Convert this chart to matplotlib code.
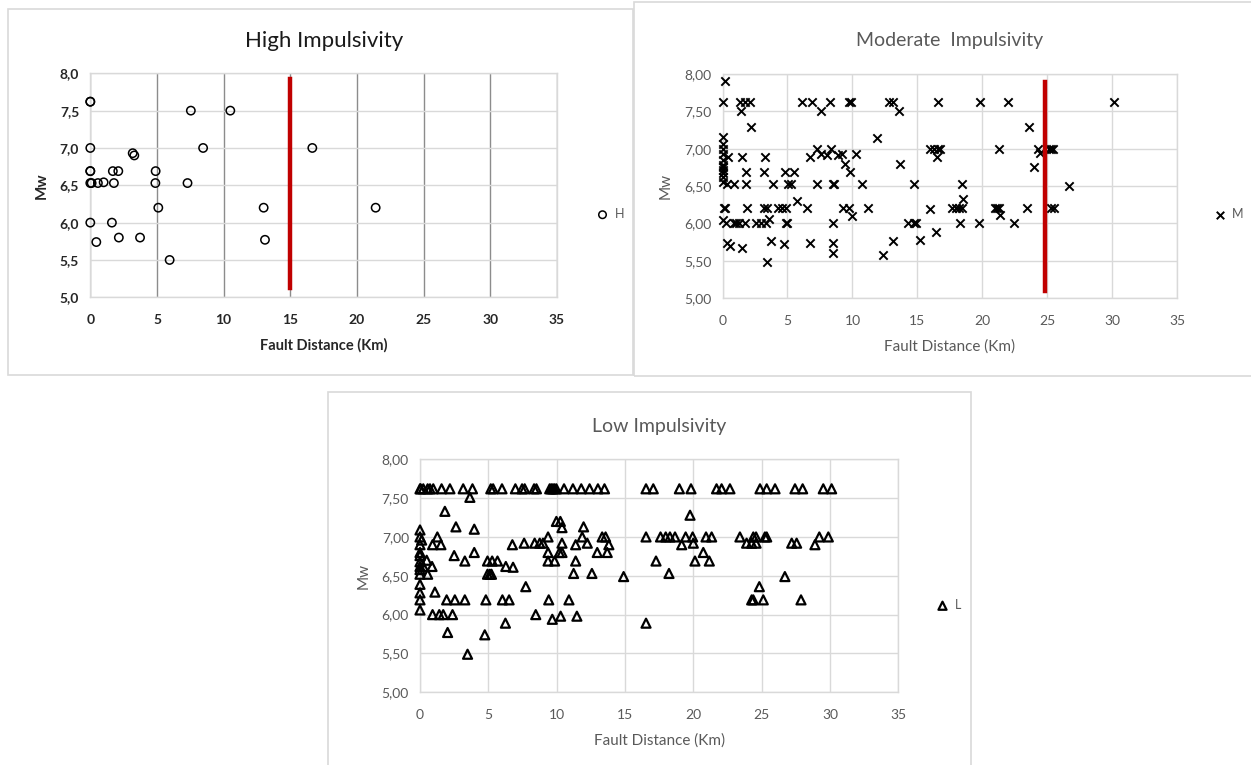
import matplotlib
matplotlib.use("Agg")
import matplotlib.pyplot as plt
from matplotlib.patches import Rectangle

plt.rcParams['font.family'] = ['Lato', 'DejaVu Sans']

# ---------------- data ----------------
high_x = [0, 0, 7.54, 10.5, 0, 8.46, 16.65, 3.18, 3.3, 0, 0, 1.69, 2.1, 4.9,
          0, 0.1, 0.57, 1.0, 1.77, 4.88, 7.29, 5.1, 13.0, 21.4, 0, 1.62, 0.45,
          2.14, 3.73, 13.1, 5.95]
high_y = [7.62, 7.62, 7.5, 7.5, 7.0, 7.0, 7.0, 6.93, 6.9, 6.69, 6.69, 6.69, 6.69, 6.69,
          6.53, 6.53, 6.53, 6.54, 6.53, 6.53, 6.53, 6.2, 6.2, 6.2, 6.0, 6.0, 5.74,
          5.8, 5.8, 5.77, 5.5]

mod_x = [0.2, 0, 1.36, 1.74, 2.13, 1.4, 2.23, 6.08, 6.92, 7.56, 8.28, 9.7, 9.87,
         12.8, 13.1, 13.6, 16.6, 19.8, 22.0, 30.15, 23.6, 11.9, 0,
         0, 0, 0, 0, 0, 0, 0, 0, 0, 0,
         0.46, 1.49, 3.28, 1.8, 3.2, 4.8, 5.54,
         0.33, 0.85, 1.8, 3.92, 5.05, 5.3, 7.3, 8.5, 8.6, 10.7,
         6.74, 7.26, 7.56, 8.33, 8.03, 8.87, 9.18, 9.44, 9.82, 10.26, 13.67, 14.7,
         0.13, 0.2, 1.85, 3.2, 3.46, 4.3, 4.56, 4.87, 5.72, 6.5, 9.3, 9.7, 9.95, 11.2, 15.95,
         0, 0.26, 0.85, 1.03, 1.28, 1.74, 2.6, 2.95, 3.33, 3.6, 4.87, 5.0, 8.5, 14.3, 14.7,
         0.38, 0.56, 1.49, 3.72, 4.74, 6.74, 8.5, 8.5, 3.46, 12.36, 13.1, 15.2, 16.4,
         15.95, 16.29, 16.6, 16.73, 16.47, 21.26, 24.3, 24.4, 25.1, 25.26, 25.44, 23.97,
         18.4, 18.48, 26.7, 17.7, 17.96, 18.17, 18.43, 20.98, 21.13, 21.3, 21.37, 23.4,
         25.26, 25.5, 14.87, 18.3, 19.77, 22.4]
mod_y = [7.91, 7.62, 7.62, 7.62, 7.62, 7.51, 7.29, 7.62, 7.62, 7.51, 7.62, 7.62, 7.62,
         7.62, 7.62, 7.51, 7.62, 7.62, 7.62, 7.62, 7.29, 7.14, 7.15,
         7.06, 7.0, 6.93, 6.85, 6.78, 6.75, 6.72, 6.68, 6.62, 6.55,
         6.89, 6.89, 6.89, 6.69, 6.69, 6.69, 6.69,
         6.53, 6.53, 6.53, 6.53, 6.53, 6.53, 6.53, 6.53, 6.53, 6.53,
         6.89, 7.0, 6.93, 7.0, 6.91, 6.91, 6.93, 6.79, 6.69, 6.93, 6.79, 6.53,
         6.2, 6.2, 6.2, 6.2, 6.2, 6.2, 6.2, 6.2, 6.3, 6.2, 6.2, 6.2, 6.1, 6.2, 6.19,
         6.04, 6.0, 6.0, 6.0, 6.0, 6.0, 6.0, 6.0, 6.0, 6.06, 6.0, 6.0, 6.0, 6.0, 6.0,
         5.73, 5.69, 5.67, 5.77, 5.72, 5.73, 5.73, 5.6, 5.48, 5.58, 5.77, 5.78, 5.89,
         7.0, 7.0, 7.0, 7.0, 6.89, 7.0, 6.99, 6.94, 7.0, 7.0, 7.0, 6.76,
         6.53, 6.33, 6.5, 6.2, 6.2, 6.2, 6.2, 6.2, 6.2, 6.2, 6.11, 6.2,
         6.2, 6.2, 6.0, 6.0, 6.0, 6.0]

low_x = [0, 0.05, 0.24, 0.56, 0.73, 0.97, 1.58, 2.19, 3.16, 3.84, 5.18, 5.35, 6.0,
         6.98, 7.47, 7.66, 8.35, 8.52, 9.49, 9.61, 9.73, 9.85, 9.98, 10.54, 11.19,
         11.8, 12.41, 13.02, 13.5,
         16.54, 17.07, 18.98, 19.83, 21.7, 22.07, 22.68, 24.88, 25.37, 25.98, 27.44,
         28.0, 29.51, 30.12,
         3.65, 1.82, 2.63, 3.97, 0.12, 1.27, 0.92, 1.53,
         0, 0, 0, 0, 0, 0, 0, 0, 0, 0, 0, 0, 0,
         0.49, 0.24, 0.56, 0.88, 1.09, 0.92, 1.41, 1.70, 2.38, 2.02, 1.95, 2.55, 3.28,
         2.5, 3.28, 3.97, 3.48, 4.74, 4.82, 4.94, 5.28, 5.67, 4.94, 5.11, 5.23,
         6.03, 6.52, 6.25, 6.28, 6.81, 6.76, 7.62, 7.74, 8.39, 8.76, 9.0, 8.47,
         9.37, 9.37, 9.37, 9.85, 9.42, 9.68, 9.98, 10.27, 10.39, 10.39, 10.39, 10.2,
         10.29, 10.9, 11.24, 11.39, 11.39, 11.48, 11.97, 11.87, 12.24, 12.58, 12.97,
         13.33, 13.58, 13.7, 13.82, 14.9,
         19.76, 16.54, 17.6, 17.98, 18.29, 18.66, 19.44, 19.95, 19.15, 20.0, 20.73,
         20.93, 21.34, 17.27, 20.12, 21.17, 18.22, 23.41, 23.9, 24.27, 24.59, 24.39,
         24.59, 25.24, 25.37, 27.2, 27.56, 28.9, 29.22, 29.88, 26.7, 24.83, 24.27,
         24.39, 25.12, 27.88, 16.54]
low_y = [7.62] * 29 + [7.62] * 14 + \
        [7.51, 7.33, 7.13, 7.10, 6.96, 7.0, 6.9, 6.9,
         7.09, 7.0, 6.9, 6.8, 6.76, 6.68, 6.62, 6.52, 6.39, 6.28, 6.19, 6.06, 6.58,
         6.7, 6.62, 6.52, 6.62, 6.29, 6.0, 6.0, 6.0, 6.0, 5.77, 6.19, 6.19, 6.19,
         6.76, 6.69, 6.8, 5.49, 5.74, 6.19, 6.69, 6.69, 6.69, 6.52, 6.52, 6.52,
         6.19, 6.19, 5.89, 6.62, 6.61, 6.9, 6.92, 6.36, 6.92, 6.92, 6.92, 6.0,
         7.0, 6.8, 6.69, 6.69, 6.19, 5.94, 7.2, 7.2, 7.12, 6.92, 6.8, 6.8,
         5.98, 6.19, 6.53, 6.69, 6.9, 5.98, 7.13, 7.0, 6.92, 6.53, 6.8,
         7.0, 7.0, 6.8, 6.9, 6.49,
         7.28, 7.0, 7.0, 7.0, 7.0, 7.0, 7.0, 7.0, 6.9, 6.92, 6.8,
         7.0, 7.0, 6.69, 6.69, 6.69, 6.53, 7.0, 6.92, 6.92, 6.92, 7.0,
         7.0, 7.0, 7.0, 6.92, 6.92, 6.9, 7.0, 7.0, 6.49, 6.36, 6.19,
         6.19, 6.19, 6.19, 5.89]

x_ticks = [0, 5, 10, 15, 20, 25, 30, 35]
y_ticks = [5.0, 5.5, 6.0, 6.5, 7.0, 7.5, 8.0]
high_limit = 15.0
high_line_y = [5.13, 7.93]
mod_limit = 24.8
mod_line_y = [5.10, 7.89]

W, H = 1251, 765
fig = plt.figure(figsize=(W / 100, H / 100), dpi=100)

def px_axes(x0, y0, x1, y1):
    return fig.add_axes([x0 / W, 1 - y1 / H, (x1 - x0) / W, (y1 - y0) / H])

def panel(x0, y0, x1, y1):
    fig.patches.append(Rectangle((x0 / W, 1 - y1 / H), (x1 - x0) / W, (y1 - y0) / H,
                                 transform=fig.transFigure, fill=False,
                                 edgecolor='#D9D9D9', linewidth=1.2))

panel(8, 9, 633, 375)
panel(634, 2, 1262, 376)
panel(328, 392, 971, 790)

GRAY = '#595959'
LIGHT = '#D9D9D9'

def style(ax, fmt, bold, tick_color, vgrid_color):
    ax.set_xlim(0, 35)
    ax.set_ylim(5, 8)
    ax.set_xticks(x_ticks)
    ax.set_yticks(y_ticks)
    ax.set_yticklabels([fmt.format(v).replace('.', ',') for v in y_ticks])
    ax.tick_params(length=0, labelsize=10, colors=tick_color)
    ax.tick_params(axis='x', pad=12)
    ax.tick_params(axis='y', pad=8)
    for lab in ax.get_xticklabels() + ax.get_yticklabels():
        lab.set_fontweight('bold' if bold else 'normal')
    ax.set_axisbelow(True)
    ax.yaxis.grid(True, color=LIGHT, linewidth=1.0)
    ax.xaxis.grid(True, color=vgrid_color, linewidth=1.0)
    for s in ax.spines.values():
        s.set_color(LIGHT)
        s.set_linewidth(1.0)

# ---- High ----
ax1 = px_axes(90.3, 73.3, 557, 297.3)
style(ax1, '{:.1f}', True, '#262626', '#8C8C8C')
h1 = ax1.scatter(high_x, high_y, s=36, facecolors='none', edgecolors='black',
                 linewidths=1.1, zorder=3, clip_on=False)
ax1.plot([high_limit, high_limit], high_line_y, color='#C00000', linewidth=3.2, zorder=4)
ax1.set_title('High Impulsivity', fontsize=16, color='#1a1a1a', pad=19)
ax1.set_xlabel('Fault Distance (Km)', fontsize=10.5, fontweight='bold', color='#262626', labelpad=9)
ax1.set_ylabel('Mw', fontsize=11, fontweight='bold', color='#262626', labelpad=8)
ax1.legend([h1], ['H'], loc='center left', bbox_to_anchor=(590 / W, 1 - 214 / H),
           bbox_transform=fig.transFigure, frameon=False, handletextpad=0.0,
           borderaxespad=0, borderpad=0, fontsize=9, labelcolor=GRAY, markerscale=0.9)

# ---- Moderate ----
ax2 = px_axes(722.5, 74, 1177.3, 298)
style(ax2, '{:.2f}', False, GRAY, LIGHT)
h2 = ax2.scatter(mod_x, mod_y, s=36, marker='x', color='black', linewidths=1.4,
                 zorder=3, clip_on=False)
ax2.plot([mod_limit, mod_limit], mod_line_y, color='#C00000', linewidth=3.2, zorder=4)
ax2.set_title('Moderate  Impulsivity', fontsize=14, color=GRAY, pad=20)
ax2.set_xlabel('Fault Distance (Km)', fontsize=11, color=GRAY, labelpad=9)
ax2.set_ylabel('Mw', fontsize=11, color=GRAY, labelpad=8)
ax2.legend([h2], ['M'], loc='center left', bbox_to_anchor=(1207 / W, 1 - 214 / H),
           bbox_transform=fig.transFigure, frameon=False, handletextpad=0.0,
           borderaxespad=0, borderpad=0, fontsize=9, labelcolor=GRAY, markerscale=0.9)

# ---- Low ----
ax3 = px_axes(420, 459.3, 898.3, 692.3)
style(ax3, '{:.2f}', False, GRAY, LIGHT)
h3 = ax3.scatter(low_x, low_y, s=42, marker='^', facecolors='none', edgecolors='black',
                 linewidths=1.6, zorder=3, clip_on=False)
ax3.set_title('Low Impulsivity', fontsize=14, color=GRAY, pad=20)
ax3.set_xlabel('Fault Distance (Km)', fontsize=11, color=GRAY, labelpad=9)
ax3.set_ylabel('Mw', fontsize=11, color=GRAY, labelpad=8)
ax3.legend([h3], ['L'], loc='center left', bbox_to_anchor=(930 / W, 1 - 605 / H),
           bbox_transform=fig.transFigure, frameon=False, handletextpad=0.0,
           borderaxespad=0, borderpad=0, fontsize=9, labelcolor=GRAY, markerscale=0.9)

fig.savefig('out.png', dpi=100)
